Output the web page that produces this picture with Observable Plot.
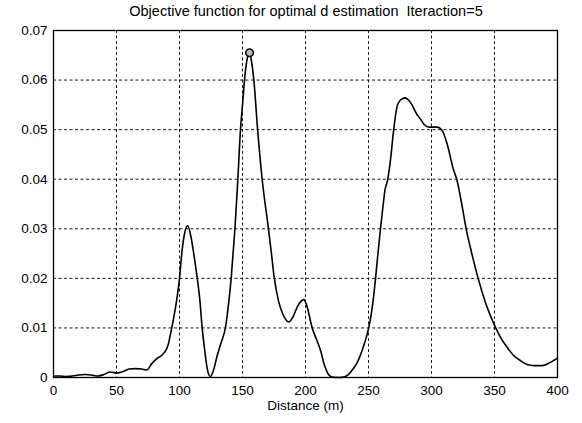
<!DOCTYPE html>
<html>
<head>
<meta charset="utf-8">
<script src="https://cdn.jsdelivr.net/npm/d3@7"></script>
<script src="https://cdn.jsdelivr.net/npm/@observablehq/plot@0.6"></script>
<style>
  html, body { margin: 0; padding: 0; background: #fff; }
  #title { width: 582px; height: 20px; line-height: 20px; font: 14.5px "Liberation Sans", Arial, sans-serif; color: #000; text-align: center; padding-left: 30px; box-sizing: border-box; white-space: pre; position: relative; top: 3px; }
  svg { display: block; }
</style>
</head>
<body>
<div id="title">Objective function for optimal d estimation  Iteraction=5</div>
<div id="chart"></div>
<script>
const titleText = "Objective function for optimal d estimation  Iteraction=5";
const xLabel = "Distance (m)";

// distance (m)
const distance = [0, 5, 10, 15, 20, 25, 30, 35, 40, 45, 50, 55, 60, 65, 70, 74, 78, 82, 86, 89, 91, 93, 95.5, 98, 100, 102, 104, 106.5, 109, 111, 114, 116, 118, 120, 122, 124.5, 127, 130, 133, 136.5, 139, 141, 142.5, 144, 146.3, 148.4, 150, 151.6, 153.5, 155.6, 157, 159, 162, 165.6, 170.6, 172.7, 175, 178.5, 182, 186.8, 190, 194, 198.7, 201, 205.3, 209, 212, 215, 218, 221, 226, 230.5, 234, 238, 241, 245, 249, 251, 253, 255.6, 257.5, 259.5, 261.5, 263, 265.3, 267.5, 270, 272.8, 274, 276.7, 278.8, 283.3, 288.6, 291, 294, 298, 304.5, 308.5, 312.4, 317.7, 320, 324, 327.5, 332, 337, 343, 351, 355, 360, 365, 370.6, 376, 381, 388, 394, 400];
// objective function value
const objective = [0.0003, 0.0003, 0.0002, 0.0003, 0.0005, 0.0006, 0.0005, 0.0003, 0.0006, 0.0011, 0.0009, 0.0012, 0.0017, 0.0018, 0.0017, 0.0015, 0.0028, 0.0038, 0.0045, 0.0054, 0.0066, 0.0089, 0.0122, 0.0160, 0.0200, 0.0255, 0.0290, 0.0306, 0.0285, 0.0255, 0.0202, 0.0160, 0.0100, 0.0055, 0.0018, 0.0002, 0.0015, 0.0045, 0.0070, 0.0101, 0.0150, 0.0200, 0.0250, 0.0300, 0.0400, 0.0500, 0.0550, 0.0600, 0.0640, 0.0655, 0.0640, 0.0600, 0.0500, 0.0400, 0.0300, 0.0256, 0.0205, 0.0155, 0.0128, 0.0112, 0.0122, 0.0145, 0.0157, 0.0145, 0.0100, 0.0075, 0.0054, 0.0025, 0.0007, 0.0001, 0.0000, 0.0001, 0.0006, 0.0018, 0.0030, 0.0055, 0.0088, 0.0110, 0.0142, 0.0200, 0.0250, 0.0300, 0.0345, 0.0377, 0.0400, 0.0440, 0.0500, 0.0548, 0.0555, 0.0562, 0.0564, 0.0555, 0.0530, 0.0522, 0.0511, 0.0505, 0.0505, 0.0498, 0.0471, 0.0417, 0.0400, 0.0350, 0.0300, 0.0250, 0.0200, 0.0150, 0.0100, 0.0080, 0.0061, 0.0045, 0.0034, 0.0026, 0.0024, 0.0024, 0.0030, 0.0039];

// marked optimum
const peakDistance = [155.6];
const peakObjective = [0.0655];

const xTicks = [0, 50, 100, 150, 200, 250, 300, 350, 400];
const yTicks = [0, 0.01, 0.02, 0.03, 0.04, 0.05, 0.06, 0.07];
const yTickLabels = ["0", "0.01", "0.02", "0.03", "0.04", "0.05", "0.06", "0.07"];

const data = distance.map((d, i) => ({d, v: objective[i]}));
const peaks = peakDistance.map((d, i) => ({d, v: peakObjective[i]}));

const font = '"Liberation Sans", Arial, sans-serif';

const chart = Plot.plot({
  width: 582,
  height: 403,
  marginTop: 10,
  marginBottom: 46,
  marginLeft: 53,
  marginRight: 25,
  style: {fontFamily: font, fontSize: "13px", color: "#000", background: "#fff"},
  x: {domain: [0, 400]},
  y: {domain: [0, 0.07]},
  marks: [
    Plot.gridX(xTicks.slice(1, -1), {stroke: "#000", strokeOpacity: 0.9, strokeWidth: 1, strokeDasharray: "3,2.5"}),
    Plot.gridY(yTicks.slice(1, -1), {stroke: "#000", strokeOpacity: 0.9, strokeWidth: 1, strokeDasharray: "3,2.5"}),
    Plot.axisX(xTicks, {tickSize: 0, tickPadding: 8, label: null, fontSize: 13.5}),
    Plot.axisY(yTicks, {tickSize: 0, tickPadding: 6, label: null, fontSize: 13.5,
      tickFormat: (d) => yTickLabels[yTicks.indexOf(d)]}),
    Plot.line(data, {x: "d", y: "v", curve: "monotone-x", stroke: "#000", strokeWidth: 1.6}),
    Plot.dot(peaks, {x: "d", y: "v", r: 3.8, stroke: "#000", strokeWidth: 1.5, fill: "#bbb"}),
    Plot.frame({stroke: "#000", strokeWidth: 1.3}),
    Plot.text([xLabel], {frameAnchor: "bottom", dy: 32, text: (d) => d, fontSize: 13.5, fill: "#000"})
  ]
});
document.getElementById("chart").appendChild(chart);
</script>
</body>
</html>
